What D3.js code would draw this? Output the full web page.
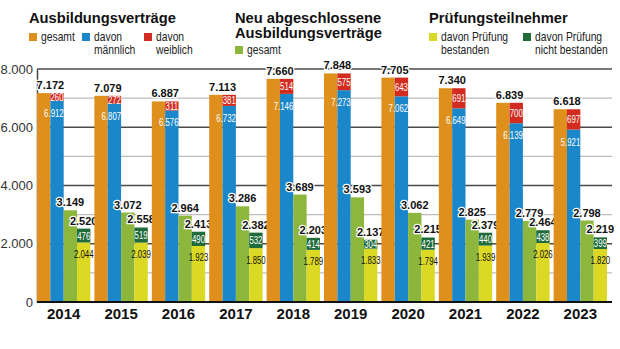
<!DOCTYPE html>
<html>
<head>
<meta charset="utf-8">
<script src="https://d3js.org/d3.v7.min.js"></script>
<style>
  body { margin: 0; background: #fff; }
  .cond { font-family: "Liberation Sans", Arial, sans-serif; }
  .bold { font-family: "Liberation Sans", Arial, sans-serif; font-weight: bold; }
</style>
</head>
<body>
<div id="chart"></div>
<script>
// values
var years = ["2014","2015","2016","2017","2018","2019","2020","2021","2022","2023"];
var gesamt = [7172, 7079, 6887, 7113, 7660, 7848, 7705, 7340, 6839, 6618];
var maennlich = [6912, 6807, 6576, 6732, 7146, 7273, 7062, 6649, 6139, 5921];
var weiblich = [260, 272, 311, 381, 514, 575, 643, 691, 700, 697];
var neu = [3149, 3072, 2964, 3286, 3689, 3593, 3062, 2825, 2779, 2798];
var bestanden = [2044, 2039, 1923, 1850, 1789, 1833, 1794, 1939, 2026, 1820];
var nichtBestanden = [476, 519, 490, 532, 414, 304, 421, 440, 438, 399];
var teilnehmer = [2520, 2558, 2413, 2382, 2203, 2137, 2215, 2379, 2464, 2219];
var yTicks = [0, 2000, 4000, 6000, 8000];

var colors = {
  gesamt: "#df8f1b", maennlich: "#1b87cb", weiblich: "#d12c1f",
  neu: "#8db63c", bestanden: "#dcd925", nicht: "#1f6b3a"
};

var width = 620, height = 349;
var fmt = d3.formatLocale({decimal: ",", thousands: ".", grouping: [3], currency: ["", "€"]}).format(",d");

var svg = d3.select("#chart").append("svg")
  .attr("width", width)
  .attr("height", height);

var x = d3.scaleBand().domain(years).range([37, 607]).paddingInner(0.07).paddingOuter(0);
var col = d3.scaleBand().domain([0, 1, 2, 3]).range([0, x.bandwidth()]);
var y = d3.scaleLinear().domain([0, 8000]).range([302, 69]);

// gridlines
svg.append("g")
  .selectAll("line")
  .data(y.ticks(8).filter(d => d > 0))
  .join("line")
    .attr("x1", 37).attr("x2", 612)
    .attr("y1", d => y(d)).attr("y2", d => y(d))
    .attr("stroke", d => d % 2000 ? "#bdbdbd" : "#4a4a4a")
    .attr("stroke-width", 1.4);

// y axis
var yAxis = svg.append("g")
  .attr("transform", "translate(37,0)")
  .call(d3.axisLeft(y).tickValues(yTicks).tickSize(0).tickSizeOuter(0).tickPadding(4).tickFormat(fmt));
yAxis.select(".domain").attr("stroke", "#444").attr("stroke-width", 1.5);
yAxis.selectAll("text")
  .attr("font-family", "'Liberation Sans', Arial, sans-serif")
  .attr("font-size", 13)
  .attr("fill", "#333");

var groups = svg.append("g")
  .selectAll("g")
  .data(years.map((yr, i) => ({yr: yr, i: i})))
  .join("g")
    .attr("transform", d => `translate(${x(d.yr)},0)`);

function bar(sel, c, lo, hi, fill) {
  sel.append("rect")
    .attr("x", col(c))
    .attr("width", col.bandwidth())
    .attr("y", d => y(hi(d)))
    .attr("height", d => y(lo(d)) - y(hi(d)))
    .attr("fill", fill);
}

bar(groups, 0, d => 0, d => gesamt[d.i], colors.gesamt);
bar(groups, 1, d => 0, d => maennlich[d.i], colors.maennlich);
bar(groups, 1, d => maennlich[d.i], d => maennlich[d.i] + weiblich[d.i], colors.weiblich);
bar(groups, 2, d => 0, d => neu[d.i], colors.neu);
bar(groups, 3, d => 0, d => bestanden[d.i], colors.bestanden);
bar(groups, 3, d => bestanden[d.i], d => teilnehmer[d.i], colors.nicht);

// baseline
svg.append("line")
  .attr("x1", 37).attr("x2", 612)
  .attr("y1", y(0)).attr("y2", y(0))
  .attr("stroke", "#111").attr("stroke-width", 2);

// labels inside bars (squeezed horizontally, no narrow font installed)
var cw = col.bandwidth();
var squeeze = 0.68;
function inner(xpos, ypos, txt, fill, anchor) {
  groups.append("text")
    .attr("class", "cond")
    .attr("transform", d => `translate(${xpos},${ypos(d)}) scale(${squeeze},1)`)
    .attr("text-anchor", anchor || "middle")
    .attr("font-size", 11.5)
    .attr("fill", fill)
    .text(txt);
}
inner(col(1) + cw, d => y(maennlich[d.i]) + 16, d => fmt(maennlich[d.i]), "#fff", "end");
inner(col(1) + cw / 2, d => y(maennlich[d.i] + weiblich[d.i] / 2) + 4, d => fmt(weiblich[d.i]), "#fff");
inner(col(3) + cw / 2, d => y(bestanden[d.i] + nichtBestanden[d.i] / 2) + 4, d => fmt(nichtBestanden[d.i]), "#fff");
inner(col(3) + cw / 2, d => y(bestanden[d.i]) + 15.5, d => fmt(bestanden[d.i]), "#111");

// bold totals with white halo
function total(xpos, val) {
  groups.append("text")
    .attr("class", "bold")
    .attr("x", xpos)
    .attr("y", d => y(val(d)) - 4)
    .attr("text-anchor", "middle")
    .attr("font-size", 11)
    .attr("fill", "#111")
    .attr("stroke", "#fff")
    .attr("stroke-width", 2.5)
    .attr("stroke-linejoin", "round")
    .attr("paint-order", "stroke")
    .text(d => fmt(val(d)));
}
total(col(1), d => gesamt[d.i]);
total(col(2) + cw / 2, d => neu[d.i]);
total(col(3) + cw / 2, d => teilnehmer[d.i]);

// x axis labels
var xAxis = svg.append("g")
  .attr("transform", `translate(0,${y(0)})`)
  .call(d3.axisBottom(x).tickSize(0).tickPadding(6));
xAxis.select(".domain").remove();
xAxis.selectAll("text")
  .attr("font-family", "'Liberation Sans', Arial, sans-serif")
  .attr("font-weight", "bold")
  .attr("font-size", 15)
  .attr("fill", "#111");

// legend
var titles = [
  {x: 29, y: 23, lines: ["Ausbildungsverträge"]},
  {x: 235, y: 23, lines: ["Neu abgeschlossene", "Ausbildungsverträge"]},
  {x: 429, y: 23, lines: ["Prüfungsteilnehmer"]}
];
var legendItems = [
  {x: 29, y: 33, color: colors.gesamt, lines: ["gesamt"]},
  {x: 82, y: 33, color: colors.maennlich, lines: ["davon", "männlich"]},
  {x: 144, y: 33, color: colors.weiblich, lines: ["davon", "weiblich"]},
  {x: 235, y: 46, color: colors.neu, lines: ["gesamt"]},
  {x: 429, y: 33, color: colors.bestanden, lines: ["davon Prüfung", "bestanden"]},
  {x: 523, y: 33, color: colors.nicht, lines: ["davon Prüfung", "nicht bestanden"]}
];

var leg = svg.append("g");
titles.forEach(t => {
  t.lines.forEach((s, k) => {
    leg.append("text")
      .attr("class", "bold")
      .attr("x", t.x).attr("y", t.y + k * 14.5)
      .attr("font-size", 14.7)
      .attr("fill", "#111")
      .text(s);
  });
});
legendItems.forEach(it => {
  leg.append("rect")
    .attr("x", it.x).attr("y", it.y)
    .attr("width", 8).attr("height", 8)
    .attr("fill", it.color);
  it.lines.forEach((s, k) => {
    leg.append("text")
      .attr("class", "cond")
      .attr("transform", `translate(${it.x + 12},${it.y + 8 + k * 13}) scale(0.86,1)`)
      .attr("font-size", 12)
      .attr("fill", "#222")
      .text(s);
  });
});
</script>
</body>
</html>
